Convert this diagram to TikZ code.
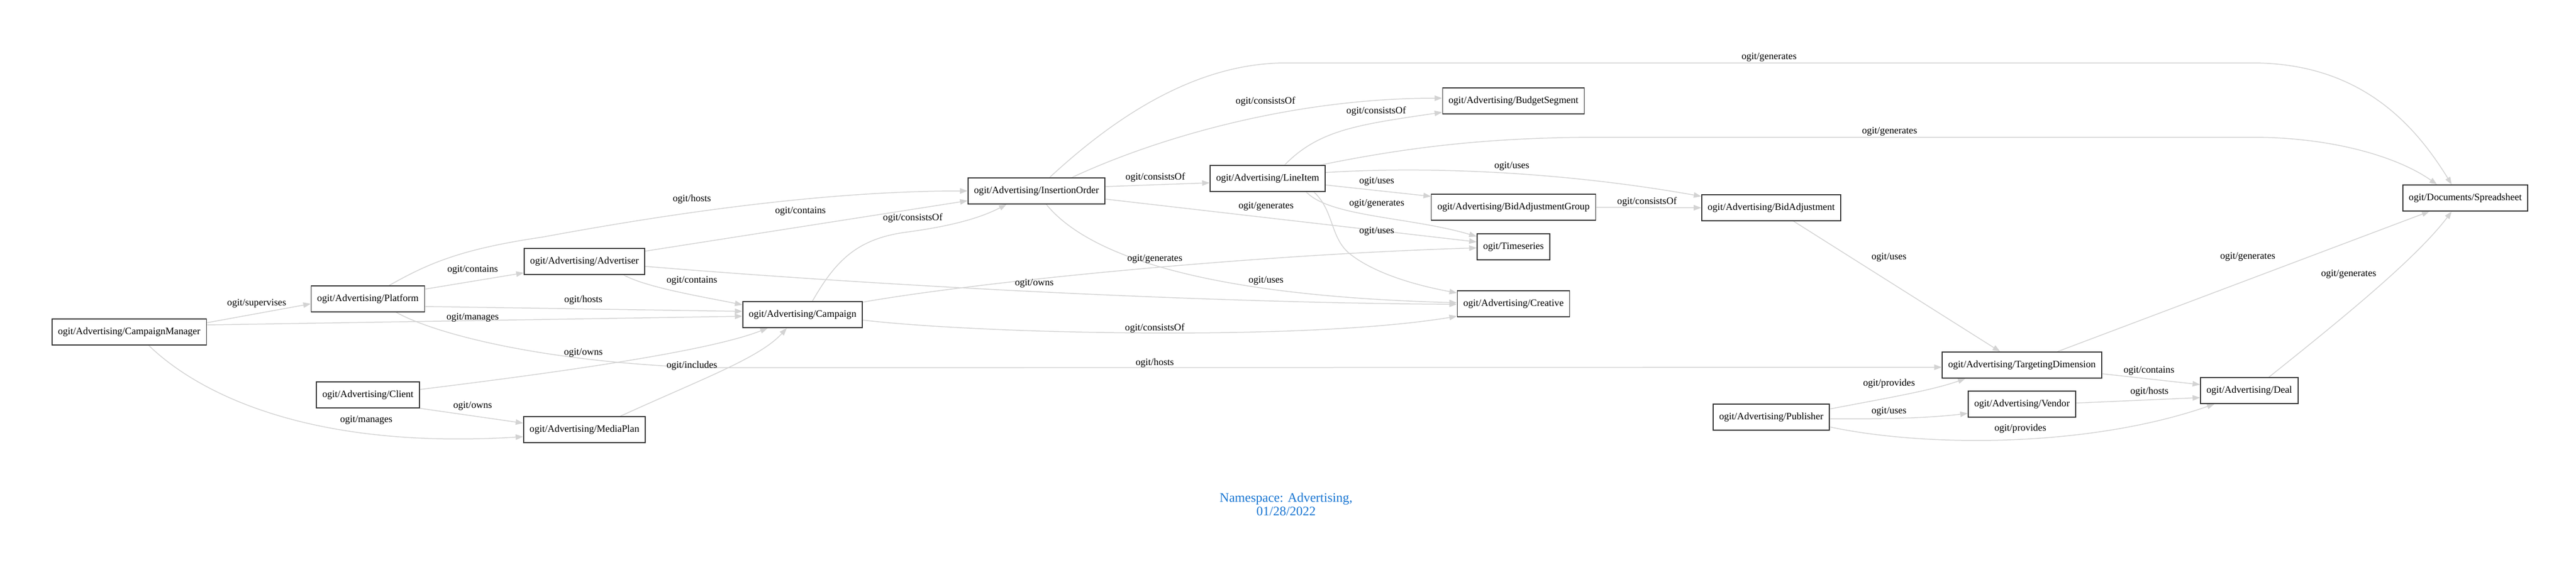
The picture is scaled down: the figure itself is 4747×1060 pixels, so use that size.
\documentclass[tikz,border=0pt]{standalone}
\usepackage{fontspec}
\setmainfont{Liberation Serif}
\usetikzlibrary{arrows.meta,calc}
\definecolor{edgegray}{RGB}{211,211,211}
\definecolor{titleblue}{RGB}{25,118,210}
\pgfdeclarelayer{bg}
\pgfsetlayers{bg,main}
\begin{document}
\begin{tikzpicture}[x=1pt,y=-1pt,
  box/.style={draw=black!80, line width=1.4pt, rectangle, minimum height=48pt, inner xsep=11pt, inner ysep=0pt, font=\fontsize{18.1}{21}\selectfont, fill=white},
  edge/.style={draw=edgegray, line width=1.5pt, -{Triangle[length=14pt,width=10pt]}},
  lbl/.style={font=\fontsize{18.1}{21}\selectfont, inner sep=0pt}
]
\useasboundingbox (0,0) rectangle (4747,1060);

% nodes
\node[box] (cm) at (238,612) {ogit/Advertising/CampaignManager};
\node[box] (platform) at (678,551) {ogit/Advertising/Platform};
\node[box] (client) at (678,728) {ogit/Advertising/Client};
\node[box] (advertiser) at (1077,482) {ogit/Advertising/Advertiser};
\node[box] (mediaplan) at (1077,792) {ogit/Advertising/MediaPlan};
\node[box] (campaign) at (1479,580) {ogit/Advertising/Campaign};
\node[box] (io) at (1910,352) {ogit/Advertising/InsertionOrder};
\node[box] (lineitem) at (2336,329) {ogit/Advertising/LineItem};
\node[box] (budget) at (2789,186) {ogit/Advertising/BudgetSegment};
\node[box] (bag) at (2789,382) {ogit/Advertising/BidAdjustmentGroup};
\node[box] (timeseries) at (2789,455) {ogit/Timeseries};
\node[box] (creative) at (2789,560) {ogit/Advertising/Creative};
\node[box] (bidadj) at (3264,383) {ogit/Advertising/BidAdjustment};
\node[box] (publisher) at (3264,769) {ogit/Advertising/Publisher};
\node[box] (td) at (3726,673) {ogit/Advertising/TargetingDimension};
\node[box] (vendor) at (3726,745) {ogit/Advertising/Vendor};
\node[box] (deal) at (4145,720) {ogit/Advertising/Deal};
\node[box] (spreadsheet) at (4543,365) {ogit/Documents/Spreadsheet};

% edges
\begin{pgfonlayer}{bg}
\draw[edge] ($(cm.east)+(0,-17)$) -- ($(platform.west)+(0,9)$);
\draw[edge] ($(platform.east)+(0,-18)$) -- ($(advertiser.west)+(0,21)$);
\draw[edge] ($(cm.east)+(0,-13)$) -- ($(campaign.west)+(0,3)$);
\draw[edge] ($(platform.east)+(0,14)$) -- ($(campaign.west)+(0,-6)$);
\draw[edge] ($(platform.north)+(39,0)$) .. controls (790,485) and (850,459) .. (1000,437) .. controls (1200,400) and (1500,352) .. (io.west);
\draw[edge] ($(advertiser.east)+(0,-19)$) -- ($(io.west)+(0,18)$);
\draw[edge] ($(advertiser.south)+(72,0)$) .. controls (1190,530) and (1300,548) .. ($(campaign.west)+(0,-18)$);
\draw[edge] ($(campaign.north)+(18,0)$) .. controls (1540,480) and (1580,440) .. (1670,428) .. controls (1760,416) and (1810,400) .. ($(io.south)+(-55,0)$);
\draw[edge] ($(advertiser.east)+(0,9)$) .. controls (1600,525) and (2200,558) .. ($(creative.west)+(0,1)$);
\draw[edge] ($(campaign.east)+(0,-23)$) .. controls (1800,520) and (2300,470) .. ($(timeseries.west)+(0,2)$);
\draw[edge] ($(campaign.east)+(0,10)$) .. controls (1800,615) and (2400,630) .. ($(creative.west)+(0,23)$);
\draw[edge] ($(platform.south)+(52,0)$) .. controls (800,615) and (1000,668) .. (1300,678) -- ($(td.west)+(0,4)$);
\draw[edge] ($(client.east)+(0,-10)$) .. controls (1000,690) and (1300,650) .. ($(campaign.south)+(-64,0)$);
\draw[edge] ($(mediaplan.north)+(66,0)$) .. controls (1290,700) and (1400,660) .. ($(campaign.south)+(-29,0)$);
\draw[edge] (client.south east) -- ($(mediaplan.west)+(0,-12)$);
\draw[edge] ($(cm.south)+(36,0)$) .. controls (360,720) and (560,830) .. ($(mediaplan.west)+(0,13)$);
\draw[edge] ($(io.east)+(0,-8)$) -- ($(lineitem.west)+(0,8)$);
\draw[edge] ($(io.north)+(65,0)$) .. controls (2130,255) and (2380,181) .. ($(budget.west)+(0,-5)$);
\draw[edge] ($(io.east)+(0,15)$) -- ($(timeseries.west)+(0,-9)$);
\draw[edge] ($(io.south)+(18,0)$) .. controls (2000,465) and (2200,545) .. ($(creative.west)+(0,-2)$);
\draw[edge] ($(io.north)+(24,0)$) .. controls (2050,220) and (2200,116) .. (2370,116) -- (4150,116) .. controls (4350,116) and (4450,230) .. ($(spreadsheet.north)+(-25,0)$);
\draw[edge] ($(lineitem.north)+(31,0)$) .. controls (2430,240) and (2500,230) .. ($(budget.west)+(0,21)$);
\draw[edge] ($(lineitem.east)+(0,12)$) -- ($(bag.west)+(0,-20)$);
\draw[edge] ($(lineitem.south)+(71,0)$) .. controls (2450,400) and (2600,400) .. ($(timeseries.west)+(0,-19)$);
\draw[edge] ($(lineitem.south)+(85,0)$) .. controls (2460,390) and (2450,440) .. (2490,470) .. controls (2540,508) and (2620,528) .. ($(creative.west)+(0,-20)$);
\draw[edge] ($(lineitem.east)+(0,-11)$) .. controls (2650,305) and (2900,320) .. ($(bidadj.west)+(0,-21)$);
\draw[edge] ($(lineitem.north east)+(-10,0)$) .. controls (2600,270) and (2750,253) .. (2950,253) -- (4150,253) .. controls (4300,253) and (4420,290) .. ($(spreadsheet.north)+(-52,0)$);
\draw[edge] (bag.east) -- (bidadj.west);
\draw[edge] ($(bidadj.south)+(41,0)$) -- ($(td.north)+(-40,0)$);
\draw[edge] ($(td.north)+(65,0)$) -- ($(spreadsheet.south)+(-66,0)$);
\draw[edge] ($(deal.north)+(36,0)$) .. controls (4300,600) and (4450,480) .. ($(spreadsheet.south)+(-25,0)$);
\draw[edge] ($(td.east)+(0,16)$) -- ($(deal.west)+(0,-11)$);
\draw[edge] ($(vendor.east)+(0,-2)$) -- ($(deal.west)+(0,13)$);
\draw[edge] ($(publisher.east)+(0,-15)$) .. controls (3470,735) and (3560,720) .. ($(td.south)+(-104,0)$);
\draw[edge] ($(publisher.east)+(0,3)$) .. controls (3480,773) and (3560,770) .. ($(vendor.west)+(0,17)$);
\draw[edge] ($(publisher.east)+(0,18)$) .. controls (3550,825) and (3850,825) .. ($(deal.south)+(-64,0)$);
\end{pgfonlayer}

% labels
\node[lbl] (l1) at (473,559) {ogit/supervises};
\node[lbl] (l2) at (871,497) {ogit/contains};
\node[lbl] (l3) at (871,585) {ogit/manages};
\node[lbl] (l4) at (675,774) {ogit/manages};
\node[lbl] (l5) at (871,748) {ogit/owns};
\node[lbl] (l6) at (1275,367) {ogit/hosts};
\node[lbl] (l7) at (1475,389) {ogit/contains};
\node[lbl] (l8) at (1275,517) {ogit/contains};
\node[lbl] (l9) at (1075,553) {ogit/hosts};
\node[lbl] (l10) at (1075,650) {ogit/owns};
\node[lbl] (l11) at (1275,674) {ogit/includes};
\node[lbl] (l12) at (1682,402) {ogit/consistsOf};
\node[lbl] (l13) at (1906,522) {ogit/owns};
\node[lbl] (l14) at (2128,477) {ogit/generates};
\node[lbl] (l15) at (2128,605) {ogit/consistsOf};
\node[lbl] (l16) at (2128,669) {ogit/hosts};
\node[lbl] (l17) at (2129,327) {ogit/consistsOf};
\node[lbl] (l18) at (2332,187) {ogit/consistsOf};
\node[lbl] (l19) at (2333,380) {ogit/generates};
\node[lbl] (l20) at (2333,517) {ogit/uses};
\node[lbl] (l21) at (3260,105) {ogit/generates};
\node[lbl] (l22) at (2536,205) {ogit/consistsOf};
\node[lbl] (l23) at (2537,334) {ogit/uses};
\node[lbl] (l24) at (2537,375) {ogit/generates};
\node[lbl] (l25) at (2537,426) {ogit/uses};
\node[lbl] (l26) at (2786,306) {ogit/uses};
\node[lbl] (l27) at (3482,242) {ogit/generates};
\node[lbl] (l28) at (3035,372) {ogit/consistsOf};
\node[lbl] (l29) at (3481,474) {ogit/uses};
\node[lbl] (l30) at (4142,473) {ogit/generates};
\node[lbl] (l31) at (4328,505) {ogit/generates};
\node[lbl] (l32) at (3960,683) {ogit/contains};
\node[lbl] (l33) at (3961,722) {ogit/hosts};
\node[lbl] (l34) at (3481,707) {ogit/provides};
\node[lbl] (l35) at (3481,758) {ogit/uses};
\node[lbl] (l36) at (3723,790) {ogit/provides};

% title
\node[font=\fontsize{24}{25}\selectfont, text=titleblue, align=center, inner sep=0pt] (title) at (2370,930) {Namespace: Advertising,\\01/28/2022};
\end{tikzpicture}
\end{document}
